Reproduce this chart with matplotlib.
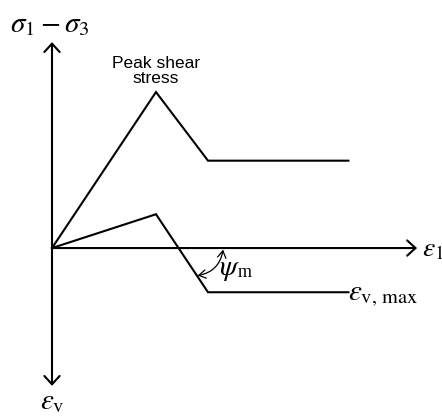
import matplotlib
matplotlib.use("Agg")
import matplotlib.pyplot as plt

plt.rcParams["mathtext.fontset"] = "stix"
plt.rcParams["font.family"] = ["Liberation Serif", "DejaVu Serif"]

# Idealised triaxial response (arbitrary units)
axial_strain = [0.0, 2.0, 3.0, 5.7]
deviator_stress = [0.0, 3.0, 1.68, 1.68]
volumetric_strain = [0.0, 0.65, -0.85, -0.85]

# Axis extents (arbitrary units)
x_axis_end = 7.02
y_axis_top = 3.96
y_axis_bottom = -2.65

fig = plt.figure(figsize=(4.42, 4.16), dpi=100)
ax = fig.add_axes([0, 0, 1, 1])
ax.set_xlim(-1.0, 7.5)
ax.set_ylim(-3.23, 4.77)
ax.axis("off")

lw = 1.5
head = dict(arrowstyle="->,head_length=0.6,head_width=0.55", lw=lw, color="black",
            shrinkA=0, shrinkB=0)

# axes with open arrowheads
ax.annotate("", xy=(x_axis_end, 0), xytext=(0, 0), arrowprops=head)
ax.annotate("", xy=(0, y_axis_top), xytext=(0, 0), arrowprops=head)
ax.annotate("", xy=(0, y_axis_bottom), xytext=(0, 0), arrowprops=head)

# stress-strain and volumetric curves
ax.plot(axial_strain, deviator_stress, color="black", lw=lw, solid_joinstyle="miter")
ax.plot(axial_strain, volumetric_strain, color="black", lw=lw, solid_joinstyle="miter")

# dilation angle arc
ax.annotate("", xy=(2.80, -0.53), xytext=(3.29, -0.03),
            arrowprops=dict(arrowstyle="<->,head_length=0.5,head_width=0.3", lw=0.9,
                            color="black", shrinkA=0, shrinkB=0,
                            connectionstyle="arc3,rad=-0.35"))

# labels
ax.text(-0.04, 4.29, r"$\sigma_1 - \sigma_3$", fontsize=21, ha="center", va="center")
ax.text(2.0, 3.40, "Peak shear\nstress", fontsize=12.5, ha="center", va="center",
        family=["Liberation Sans", "DejaVu Sans"], linespacing=1.0)
ax.text(7.12, -0.04, r"$\varepsilon_1$", fontsize=20, ha="left", va="center")
ax.text(3.21, -0.43, r"$\psi$", fontsize=21, ha="left", va="center")
ax.text(3.58, -0.56, "m", fontsize=13, ha="left", va="baseline")
ax.text(5.69, -0.92, r"$\varepsilon_{\mathrm{v,\,max}}$", fontsize=21, ha="left", va="center")
ax.text(0.0, -2.97, r"$\varepsilon_{\mathrm{v}}$", fontsize=21, ha="center", va="center")

fig.savefig("out.png", dpi=100)
